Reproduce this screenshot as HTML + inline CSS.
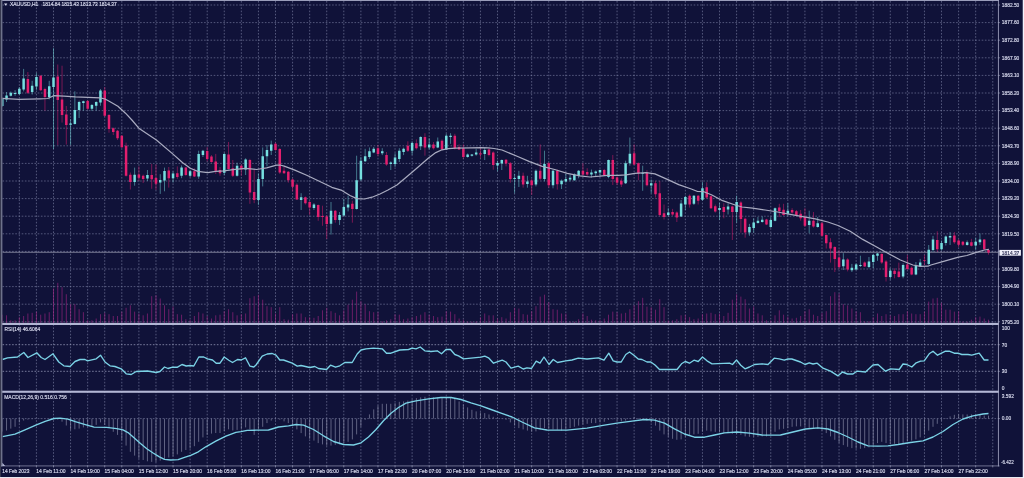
<!DOCTYPE html><html><head><meta charset="utf-8"><title>XAUUSD H1</title><style>html,body{margin:0;padding:0;background:#101239;overflow:hidden}</style></head><body><svg width="1024" height="478" viewBox="0 0 1024 478" style="display:block;font-family:'Liberation Sans',sans-serif">
<rect width="1024" height="478" fill="#101239"/>
<defs><filter id="bl" x="-5%" y="-50%" width="110%" height="200%"><feGaussianBlur stdDeviation="0.22"/></filter></defs>
<defs><clipPath id="cp"><rect x="2.4" y="0" width="995.9" height="466"/></clipPath></defs>
<path d="M19.34 1V466M36.42 1V466M53.50 1V466M70.57 1V466M87.65 1V466M104.73 1V466M121.81 1V466M138.88 1V466M155.96 1V466M173.04 1V466M190.12 1V466M207.19 1V466M224.27 1V466M241.35 1V466M258.43 1V466M275.50 1V466M292.58 1V466M309.66 1V466M326.73 1V466M343.81 1V466M360.89 1V466M377.97 1V466M395.05 1V466M412.12 1V466M429.20 1V466M446.28 1V466M463.35 1V466M480.43 1V466M497.51 1V466M514.59 1V466M531.67 1V466M548.74 1V466M565.82 1V466M582.90 1V466M599.98 1V466M617.05 1V466M634.13 1V466M651.21 1V466M668.29 1V466M685.36 1V466M702.44 1V466M719.52 1V466M736.60 1V466M753.67 1V466M770.75 1V466M787.83 1V466M804.91 1V466M821.98 1V466M839.06 1V466M856.14 1V466M873.22 1V466M890.29 1V466M907.37 1V466M924.45 1V466M941.53 1V466M958.60 1V466M975.68 1V466M992.76 1V466M2.5 5.00H998.3M2.5 22.60H998.3M2.5 40.20H998.3M2.5 57.80H998.3M2.5 75.40H998.3M2.5 93.00H998.3M2.5 110.60H998.3M2.5 128.20H998.3M2.5 145.80H998.3M2.5 163.40H998.3M2.5 181.00H998.3M2.5 198.60H998.3M2.5 216.20H998.3M2.5 233.80H998.3M2.5 251.40H998.3M2.5 269.00H998.3M2.5 286.60H998.3M2.5 304.20H998.3M2.5 321.80H998.3M2.5 418.6H998.3" stroke="#8b91b4" stroke-width="0.55" stroke-dasharray="1.6 1.6" fill="none"/>
<path d="M2.5 344.7H998.3M2.5 371.3H998.3" stroke="#a4a8c6" stroke-width="0.7" stroke-dasharray="1.6 1.6" fill="none"/>
<path d="M2.27 323.2v-8.5M6.54 323.2v-7.9M10.81 323.2v-2.9M15.08 323.2v-2.9M19.35 323.2v-6.0M23.62 323.2v-7.2M27.89 323.2v-9.7M32.16 323.2v-10.4M36.43 323.2v-11.6M40.69 323.2v-8.5M44.96 323.2v-9.7M49.23 323.2v-11.0M53.50 323.2v-34.7M57.77 323.2v-40.4M62.04 323.2v-36.0M66.31 323.2v-29.0M70.58 323.2v-19.0M74.85 323.2v-19.0M79.12 323.2v-14.0M83.39 323.2v-11.0M87.66 323.2v-3.0M91.93 323.2v-3.0M96.20 323.2v-4.7M100.47 323.2v-9.0M104.74 323.2v-10.4M109.00 323.2v-9.0M113.27 323.2v-7.2M117.54 323.2v-7.2M121.81 323.2v-11.6M126.08 323.2v-15.4M130.35 323.2v-17.9M134.62 323.2v-11.6M138.89 323.2v-9.7M143.16 323.2v-7.9M147.43 323.2v-9.7M151.70 323.2v-27.0M155.97 323.2v-27.9M160.24 323.2v-24.7M164.51 323.2v-17.9M168.78 323.2v-14.0M173.05 323.2v-16.6M177.32 323.2v-9.0M181.58 323.2v-8.5M185.85 323.2v-4.0M190.12 323.2v-3.5M194.39 323.2v-7.2M198.66 323.2v-11.0M202.93 323.2v-9.7M207.20 323.2v-7.2M211.47 323.2v-4.7M215.74 323.2v-7.9M220.01 323.2v-8.5M224.28 323.2v-12.0M228.55 323.2v-14.0M232.82 323.2v-11.0M237.09 323.2v-7.9M241.36 323.2v-9.0M245.63 323.2v-9.7M249.90 323.2v-25.0M254.16 323.2v-27.0M258.43 323.2v-28.5M262.70 323.2v-23.5M266.97 323.2v-17.0M271.24 323.2v-16.0M275.51 323.2v-9.7M279.78 323.2v-16.0M284.05 323.2v-4.0M288.32 323.2v-3.5M292.59 323.2v-9.0M296.86 323.2v-9.7M301.13 323.2v-9.7M305.40 323.2v-6.0M309.67 323.2v-6.0M313.94 323.2v-5.4M318.21 323.2v-7.2M322.47 323.2v-12.9M326.74 323.2v-15.4M331.01 323.2v-12.0M335.28 323.2v-10.4M339.55 323.2v-7.9M343.82 323.2v-12.9M348.09 323.2v-18.5M352.36 323.2v-23.5M356.63 323.2v-31.6M360.90 323.2v-22.0M365.17 323.2v-19.0M369.44 323.2v-12.0M373.71 323.2v-11.0M377.98 323.2v-11.0M382.25 323.2v-2.0M386.52 323.2v-2.9M390.79 323.2v-4.0M395.05 323.2v-9.0M399.32 323.2v-8.5M403.59 323.2v-4.0M407.86 323.2v-4.7M412.13 323.2v-6.0M416.40 323.2v-7.2M420.67 323.2v-8.5M424.94 323.2v-11.0M429.21 323.2v-8.5M433.48 323.2v-7.2M437.75 323.2v-6.0M442.02 323.2v-6.6M446.29 323.2v-12.0M450.56 323.2v-11.6M454.83 323.2v-9.0M459.10 323.2v-4.7M463.37 323.2v-3.5M467.63 323.2v-1.6M471.90 323.2v-1.6M476.17 323.2v-2.0M480.44 323.2v-6.0M484.71 323.2v-9.7M488.98 323.2v-7.9M493.25 323.2v-7.9M497.52 323.2v-4.7M501.79 323.2v-6.0M506.06 323.2v-4.7M510.33 323.2v-11.0M514.60 323.2v-15.4M518.87 323.2v-14.7M523.14 323.2v-9.0M527.41 323.2v-8.5M531.68 323.2v-12.0M535.94 323.2v-17.0M540.21 323.2v-26.6M544.48 323.2v-28.5M548.75 323.2v-21.0M553.02 323.2v-14.0M557.29 323.2v-13.5M561.56 323.2v-9.7M565.83 323.2v-9.7M570.10 323.2v-1.6M574.37 323.2v-1.6M578.64 323.2v-4.0M582.91 323.2v-9.7M587.18 323.2v-7.2M591.45 323.2v-3.5M595.72 323.2v-3.0M599.99 323.2v-3.0M604.26 323.2v-4.7M608.52 323.2v-8.5M612.79 323.2v-11.6M617.06 323.2v-11.0M621.33 323.2v-9.7M625.60 323.2v-10.4M629.87 323.2v-14.0M634.14 323.2v-17.9M638.41 323.2v-22.0M642.68 323.2v-25.4M646.95 323.2v-16.6M651.22 323.2v-16.0M655.49 323.2v-13.5M659.76 323.2v-24.0M664.03 323.2v-16.0M668.30 323.2v-2.9M672.57 323.2v-2.9M676.84 323.2v-4.0M681.10 323.2v-7.9M685.37 323.2v-8.5M689.64 323.2v-6.0M693.91 323.2v-4.0M698.18 323.2v-4.7M702.45 323.2v-9.0M706.72 323.2v-9.7M710.99 323.2v-10.4M715.26 323.2v-9.0M719.53 323.2v-9.7M723.80 323.2v-7.2M728.07 323.2v-10.4M732.34 323.2v-23.5M736.61 323.2v-29.0M740.88 323.2v-26.6M745.15 323.2v-24.0M749.41 323.2v-14.7M753.68 323.2v-16.6M757.95 323.2v-9.7M762.22 323.2v-7.9M766.49 323.2v-2.9M770.76 323.2v-2.9M775.03 323.2v-7.9M779.30 323.2v-12.9M783.57 323.2v-8.5M787.84 323.2v-6.6M792.11 323.2v-4.7M796.38 323.2v-5.4M800.65 323.2v-7.2M804.92 323.2v-12.0M809.19 323.2v-14.0M813.46 323.2v-8.5M817.73 323.2v-7.2M821.99 323.2v-10.4M826.26 323.2v-12.0M830.53 323.2v-27.0M834.80 323.2v-31.0M839.07 323.2v-29.7M843.34 323.2v-19.0M847.61 323.2v-17.9M851.88 323.2v-14.7M856.15 323.2v-12.0M860.42 323.2v-11.0M864.69 323.2v-2.0M868.96 323.2v-2.0M873.23 323.2v-6.0M877.50 323.2v-9.7M881.77 323.2v-7.2M886.04 323.2v-9.0M890.31 323.2v-7.9M894.57 323.2v-7.2M898.84 323.2v-9.0M903.11 323.2v-9.0M907.38 323.2v-12.0M911.65 323.2v-9.7M915.92 323.2v-9.0M920.19 323.2v-9.0M924.46 323.2v-11.6M928.73 323.2v-21.6M933.00 323.2v-24.7M937.27 323.2v-25.4M941.54 323.2v-20.4M945.81 323.2v-13.5M950.08 323.2v-13.5M954.35 323.2v-11.6M958.62 323.2v-12.0M962.88 323.2v-1.6M967.15 323.2v-1.6M971.42 323.2v-3.5M975.69 323.2v-6.0M979.96 323.2v-6.6M984.23 323.2v-4.7M988.50 323.2v-3.5" stroke="#a32684" stroke-width="0.62" fill="none" clip-path="url(#cp)"/>
<path d="M2.5 252.3H998.3" stroke="#b8bccb" stroke-width="0.6"/>
<g clip-path="url(#cp)">
<path d="M2.27 97.5V107.0M6.54 92.0V102.0M10.81 91.5V96.5M15.08 90.2V95.8M19.35 87.0V95.2M23.62 68.9V91.4M32.16 80.8V94.6M36.43 72.9V90.2M49.23 80.8V99.4M53.50 48.2V149.0M70.58 118.9V145.0M74.85 91.3V124.5M79.12 100.7V118.0M83.39 100.7V110.7M91.93 104.0V111.0M96.20 101.3V110.7M100.47 89.0V105.7M134.62 167.6V185.7M147.43 170.0V181.0M160.24 174.2V193.9M164.51 167.6V191.3M173.05 171.4V182.6M181.58 165.4V178.2M190.12 169.6V177.0M198.66 150.7V178.8M202.93 149.9V157.0M224.28 152.9V175.2M237.09 162.7V176.5M245.63 158.3V175.0M258.43 173.3V205.0M262.70 147.5V186.4M266.97 145.0V166.4M271.24 140.6V155.0M301.13 193.2V210.0M313.94 203.2V210.0M331.01 202.0V234.6M339.55 212.0V225.0M343.82 198.8V216.4M348.09 195.7V211.4M356.63 155.7V209.5M360.90 157.0V181.0M365.17 148.8V162.0M369.44 147.5V158.9M373.71 147.0V153.2M382.25 148.2V155.1M390.79 161.4V170.0M395.05 153.2V167.0M399.32 148.2V162.0M403.59 147.6V155.1M412.13 141.3V155.0M420.67 136.3V150.0M429.21 138.2V149.5M437.75 137.5V148.2M446.29 133.8V150.0M450.56 133.2V143.8M467.63 153.5V157.6M471.90 154.0V156.5M476.17 148.8V155.7M484.71 147.6V160.0M497.52 160.7V171.4M501.79 159.5V170.0M514.60 173.9V193.3M518.87 170.8V187.0M527.41 175.8V187.7M535.94 169.5V186.4M544.48 150.7V181.4M553.02 169.5V188.3M561.56 179.5V189.0M565.83 173.9V182.7M570.10 174.5V181.4M574.37 173.3V180.8M578.64 170.1V178.3M591.45 169.5V177.7M595.72 170.5V176.4M599.99 169.5V176.4M608.52 159.5V178.3M625.60 160.7V184.0M629.87 137.5V165.7M642.68 165.7V190.8M651.22 179.5V193.2M668.30 208.0V216.4M681.10 200.0V217.0M685.37 195.7V210.0M693.91 195.0V205.0M702.45 182.0V200.7M719.53 202.6V220.0M728.07 203.2V214.5M736.61 195.7V222.7M749.41 223.9V235.8M753.68 218.2V232.6M757.95 217.0V223.6M762.22 216.3V222.6M770.76 217.0V227.9M775.03 207.5V221.3M787.84 203.2V215.7M809.19 210.7V233.3M817.73 217.0V227.6M843.34 253.2V270.0M851.88 263.9V272.0M856.15 263.3V270.2M860.42 255.7V267.0M868.96 257.0V268.3M873.23 253.9V268.3M877.50 253.0V260.8M890.31 268.3V279.6M903.11 263.3V278.3M915.92 262.0V275.2M920.19 258.9V267.0M928.73 245.0V265.5M933.00 235.9V251.8M941.54 240.5V250.5M945.81 235.5V245.5M950.08 232.0V245.0M967.15 240.5V245.6M975.69 237.6V250.0M979.96 233.4V245.0" stroke="#76dfe0" stroke-width="0.5" fill="none"/>
<path d="M27.89 72.0V94.0M40.69 75.1V90.8M44.96 87.7V110.7M57.77 64.5V145.0M62.04 65.7V122.6M66.31 106.0V144.6M87.66 100.0V110.0M104.74 87.0V117.0M109.00 114.0V132.7M113.27 127.5V135.0M117.54 130.0V140.0M121.81 135.0V148.0M126.08 142.6V176.5M130.35 172.5V189.5M138.89 166.4V181.0M143.16 174.6V183.0M151.70 163.9V188.8M155.97 164.5V190.0M168.78 167.0V187.6M177.32 166.4V178.8M185.85 167.0V175.8M194.39 168.3V177.0M207.20 147.0V161.4M211.47 155.1V162.7M215.74 153.9V174.0M220.01 167.0V175.8M228.55 142.0V169.6M232.82 160.0V177.0M241.36 164.5V175.8M249.90 158.8V203.8M254.16 169.5V203.2M275.51 142.5V150.7M279.78 148.2V173.9M284.05 166.4V173.9M288.32 171.0V182.7M292.59 178.5V191.6M296.86 183.3V200.0M305.40 196.5V204.5M309.67 201.0V215.0M318.21 204.5V220.8M322.47 205.7V225.8M326.74 215.0V239.0M335.28 210.0V222.7M352.36 200.7V222.7M377.98 145.0V156.4M386.52 152.0V165.8M407.86 141.3V152.0M416.40 139.4V149.5M424.94 133.2V155.7M433.48 142.0V149.5M442.02 139.4V150.0M454.83 133.8V149.5M459.10 144.4V150.0M463.37 144.4V158.9M480.44 147.0V158.2M488.98 148.2V156.4M493.25 151.3V169.7M506.06 159.0V166.4M510.33 162.0V182.7M523.14 172.6V187.7M531.68 178.9V195.0M540.21 144.4V180.2M548.75 162.0V187.7M557.29 169.5V189.6M582.91 163.2V175.8M587.18 168.2V175.8M604.26 168.9V175.8M612.79 155.0V185.0M617.06 176.4V185.2M621.33 178.3V187.0M634.14 144.4V165.1M638.41 162.5V180.2M646.95 170.1V186.4M655.49 180.8V197.6M659.76 181.0V216.4M664.03 204.5V219.5M672.57 208.9V215.8M676.84 211.4V222.0M689.64 194.4V207.6M698.18 195.0V204.5M706.72 182.3V198.8M710.99 195.5V208.9M715.26 204.5V212.6M723.80 203.2V218.3M732.34 205.7V240.0M740.88 201.3V232.7M745.15 217.6V237.7M766.49 218.8V225.1M779.30 203.8V217.0M783.57 203.8V215.7M792.11 208.2V213.8M796.38 210.0V216.3M800.65 210.0V220.7M804.92 208.2V227.0M813.46 212.0V227.6M821.99 222.0V237.0M826.26 234.5V248.6M830.53 238.2V262.6M834.80 246.3V272.0M839.07 249.5V268.9M847.61 258.3V271.4M864.69 261.4V267.0M881.77 253.2V263.9M886.04 260.1V281.5M894.57 268.3V278.3M898.84 262.6V277.7M907.38 255.0V270.2M911.65 266.4V275.2M924.46 255.0V265.0M937.27 231.3V251.8M954.35 232.0V243.8M958.62 239.2V247.2M962.88 241.0V246.0M971.42 238.8V246.4M984.23 239.0V250.1M988.50 248.8V254.7" stroke="#e21f6e" stroke-width="0.5" fill="none"/>
<path d="M1.02 98.8h2.5V106.0h-2.5zM5.29 95.4h2.5V99.4h-2.5zM9.56 92.7h2.5V95.7h-2.5zM13.83 93.0h2.5V94.0h-2.5zM18.10 88.7h2.5V94.0h-2.5zM22.37 78.6h2.5V89.6h-2.5zM30.91 85.8h2.5V92.0h-2.5zM35.18 77.0h2.5V86.4h-2.5zM47.98 86.2h2.5V97.0h-2.5zM52.25 77.6h2.5V87.0h-2.5zM69.33 123.6h2.5V124.8h-2.5zM73.60 110.0h2.5V123.9h-2.5zM77.87 101.9h2.5V110.0h-2.5zM82.14 101.3h2.5V103.0h-2.5zM90.68 105.0h2.5V108.8h-2.5zM94.95 101.9h2.5V105.7h-2.5zM99.22 90.5h2.5V102.5h-2.5zM133.37 174.8h2.5V182.0h-2.5zM146.18 175.1h2.5V178.4h-2.5zM158.99 180.0h2.5V182.6h-2.5zM163.26 170.9h2.5V180.4h-2.5zM171.80 173.6h2.5V178.3h-2.5zM180.33 167.4h2.5V175.7h-2.5zM188.87 171.3h2.5V175.7h-2.5zM197.41 153.9h2.5V176.4h-2.5zM201.68 150.7h2.5V155.0h-2.5zM223.03 154.0h2.5V172.7h-2.5zM235.84 165.8h2.5V175.8h-2.5zM244.38 159.5h2.5V169.6h-2.5zM257.18 178.9h2.5V200.0h-2.5zM261.45 156.3h2.5V178.9h-2.5zM265.72 150.0h2.5V156.3h-2.5zM269.99 144.4h2.5V150.7h-2.5zM299.88 197.3h2.5V200.0h-2.5zM312.69 204.5h2.5V207.9h-2.5zM329.76 210.7h2.5V223.7h-2.5zM338.30 215.0h2.5V220.0h-2.5zM342.57 207.0h2.5V215.4h-2.5zM346.84 204.5h2.5V207.6h-2.5zM355.38 180.2h2.5V208.9h-2.5zM359.65 160.7h2.5V179.5h-2.5zM363.92 156.3h2.5V161.3h-2.5zM368.19 151.3h2.5V157.0h-2.5zM372.46 148.8h2.5V152.6h-2.5zM381.00 151.3h2.5V153.2h-2.5zM389.54 162.6h2.5V164.0h-2.5zM393.80 157.6h2.5V163.9h-2.5zM398.07 150.7h2.5V158.9h-2.5zM402.34 148.8h2.5V152.0h-2.5zM410.88 143.0h2.5V150.7h-2.5zM419.42 137.0h2.5V146.3h-2.5zM427.96 144.4h2.5V147.6h-2.5zM436.50 141.6h2.5V147.6h-2.5zM445.04 135.7h2.5V149.5h-2.5zM449.31 135.7h2.5V137.0h-2.5zM466.38 154.5h2.5V157.0h-2.5zM470.65 154.5h2.5V155.7h-2.5zM474.92 152.6h2.5V154.5h-2.5zM483.46 150.0h2.5V153.9h-2.5zM496.27 162.9h2.5V165.4h-2.5zM500.54 160.0h2.5V163.6h-2.5zM513.35 178.0h2.5V179.0h-2.5zM517.62 175.8h2.5V178.9h-2.5zM526.16 181.4h2.5V183.9h-2.5zM534.69 170.8h2.5V184.6h-2.5zM543.23 163.9h2.5V178.9h-2.5zM551.77 170.8h2.5V185.2h-2.5zM560.31 180.8h2.5V184.2h-2.5zM564.58 178.9h2.5V181.4h-2.5zM568.85 177.7h2.5V179.5h-2.5zM573.12 174.5h2.5V180.2h-2.5zM577.39 170.8h2.5V175.8h-2.5zM590.20 172.6h2.5V174.5h-2.5zM594.47 171.4h2.5V173.3h-2.5zM598.74 170.0h2.5V172.6h-2.5zM607.27 160.0h2.5V177.0h-2.5zM624.35 163.2h2.5V183.3h-2.5zM628.62 153.8h2.5V163.2h-2.5zM641.43 173.2h2.5V174.1h-2.5zM649.97 183.2h2.5V185.4h-2.5zM667.05 212.4h2.5V215.0h-2.5zM679.85 203.6h2.5V216.4h-2.5zM684.12 197.0h2.5V204.5h-2.5zM692.66 195.7h2.5V203.8h-2.5zM701.20 188.2h2.5V199.8h-2.5zM718.28 207.9h2.5V210.0h-2.5zM726.82 206.6h2.5V209.5h-2.5zM735.36 202.0h2.5V212.0h-2.5zM748.16 227.0h2.5V232.4h-2.5zM752.43 222.6h2.5V227.9h-2.5zM756.70 220.7h2.5V222.9h-2.5zM760.97 219.7h2.5V222.0h-2.5zM769.51 220.0h2.5V227.0h-2.5zM773.78 208.2h2.5V220.7h-2.5zM786.59 210.7h2.5V213.8h-2.5zM807.94 220.7h2.5V225.0h-2.5zM816.48 223.2h2.5V227.0h-2.5zM842.09 259.5h2.5V266.2h-2.5zM850.63 267.7h2.5V270.2h-2.5zM854.90 264.5h2.5V269.5h-2.5zM859.17 265.0h2.5V266.0h-2.5zM867.71 261.4h2.5V267.0h-2.5zM871.98 255.0h2.5V262.0h-2.5zM876.25 253.6h2.5V255.7h-2.5zM889.06 270.8h2.5V277.0h-2.5zM901.86 265.0h2.5V276.4h-2.5zM914.67 265.8h2.5V274.6h-2.5zM918.94 262.6h2.5V266.4h-2.5zM927.48 249.7h2.5V263.9h-2.5zM931.75 239.6h2.5V250.0h-2.5zM940.29 243.0h2.5V249.3h-2.5zM944.56 236.5h2.5V243.0h-2.5zM948.83 235.9h2.5V237.6h-2.5zM965.90 242.2h2.5V245.0h-2.5zM974.44 241.7h2.5V245.5h-2.5zM978.71 239.6h2.5V242.2h-2.5z" fill="#76dfe0"/>
<path d="M26.64 78.9h2.5V92.7h-2.5zM39.44 75.8h2.5V90.2h-2.5zM43.71 89.0h2.5V97.0h-2.5zM56.52 76.4h2.5V100.0h-2.5zM60.79 99.4h2.5V115.0h-2.5zM65.06 114.5h2.5V125.0h-2.5zM86.41 101.0h2.5V108.8h-2.5zM103.49 90.4h2.5V115.7h-2.5zM107.75 115.0h2.5V128.9h-2.5zM112.02 128.3h2.5V132.0h-2.5zM116.29 130.8h2.5V138.3h-2.5zM120.56 135.8h2.5V147.3h-2.5zM124.83 145.7h2.5V175.8h-2.5zM129.10 174.7h2.5V182.0h-2.5zM137.64 174.6h2.5V177.7h-2.5zM141.91 175.8h2.5V178.9h-2.5zM150.45 175.0h2.5V179.2h-2.5zM154.72 178.0h2.5V183.8h-2.5zM167.53 170.4h2.5V178.2h-2.5zM176.07 173.2h2.5V177.0h-2.5zM184.60 167.6h2.5V175.1h-2.5zM193.14 171.3h2.5V176.4h-2.5zM205.95 151.0h2.5V158.9h-2.5zM210.22 156.4h2.5V162.0h-2.5zM214.49 161.4h2.5V170.8h-2.5zM218.76 170.0h2.5V173.3h-2.5zM227.30 154.5h2.5V169.0h-2.5zM231.57 168.3h2.5V175.8h-2.5zM240.11 165.8h2.5V169.6h-2.5zM248.65 160.0h2.5V192.6h-2.5zM252.91 191.9h2.5V200.0h-2.5zM274.26 143.8h2.5V150.0h-2.5zM278.53 149.0h2.5V172.6h-2.5zM282.80 170.8h2.5V173.3h-2.5zM287.07 171.8h2.5V180.2h-2.5zM291.34 179.5h2.5V186.7h-2.5zM295.61 184.8h2.5V199.4h-2.5zM304.15 197.3h2.5V203.2h-2.5zM308.42 202.0h2.5V207.6h-2.5zM316.96 205.0h2.5V217.0h-2.5zM321.22 216.0h2.5V216.9h-2.5zM325.49 216.4h2.5V224.0h-2.5zM334.03 210.7h2.5V220.0h-2.5zM351.11 203.8h2.5V208.9h-2.5zM376.73 148.2h2.5V153.9h-2.5zM385.27 155.0h2.5V164.5h-2.5zM406.61 145.7h2.5V150.7h-2.5zM415.15 143.2h2.5V148.2h-2.5zM423.69 137.0h2.5V147.6h-2.5zM432.23 144.4h2.5V148.2h-2.5zM440.77 140.7h2.5V149.5h-2.5zM453.58 135.7h2.5V148.2h-2.5zM457.85 147.0h2.5V149.5h-2.5zM462.12 148.2h2.5V157.0h-2.5zM479.19 153.2h2.5V154.5h-2.5zM487.73 149.5h2.5V155.0h-2.5zM492.00 152.6h2.5V165.0h-2.5zM504.81 159.8h2.5V163.6h-2.5zM509.08 163.2h2.5V178.9h-2.5zM521.89 175.8h2.5V184.6h-2.5zM530.43 180.4h2.5V185.2h-2.5zM538.96 170.8h2.5V178.7h-2.5zM547.50 163.2h2.5V185.2h-2.5zM556.04 170.8h2.5V184.2h-2.5zM581.66 170.8h2.5V174.5h-2.5zM585.93 172.0h2.5V174.5h-2.5zM603.01 170.0h2.5V175.2h-2.5zM611.54 160.0h2.5V178.9h-2.5zM615.81 177.4h2.5V182.7h-2.5zM620.08 180.8h2.5V184.6h-2.5zM632.89 153.2h2.5V164.5h-2.5zM637.16 163.2h2.5V173.3h-2.5zM645.70 172.6h2.5V185.2h-2.5zM654.24 183.2h2.5V194.2h-2.5zM658.51 193.3h2.5V215.0h-2.5zM662.78 213.2h2.5V217.0h-2.5zM671.32 212.0h2.5V214.5h-2.5zM675.59 212.6h2.5V217.6h-2.5zM688.39 195.7h2.5V204.5h-2.5zM696.93 195.7h2.5V200.7h-2.5zM705.47 187.3h2.5V197.6h-2.5zM709.74 196.3h2.5V208.2h-2.5zM714.01 206.3h2.5V211.4h-2.5zM722.55 207.0h2.5V212.0h-2.5zM731.09 206.6h2.5V212.0h-2.5zM739.63 202.6h2.5V218.9h-2.5zM743.90 218.8h2.5V232.6h-2.5zM765.24 219.5h2.5V224.5h-2.5zM778.05 207.5h2.5V211.3h-2.5zM782.32 209.8h2.5V215.0h-2.5zM790.86 210.0h2.5V212.6h-2.5zM795.13 211.3h2.5V215.0h-2.5zM799.40 213.8h2.5V218.2h-2.5zM803.67 217.0h2.5V225.7h-2.5zM812.21 220.7h2.5V226.4h-2.5zM820.74 223.2h2.5V235.8h-2.5zM825.01 235.1h2.5V243.2h-2.5zM829.28 242.3h2.5V248.5h-2.5zM833.55 247.0h2.5V258.9h-2.5zM837.82 257.6h2.5V267.0h-2.5zM846.36 259.5h2.5V269.5h-2.5zM863.44 262.6h2.5V266.4h-2.5zM880.52 253.9h2.5V262.6h-2.5zM884.79 261.4h2.5V277.0h-2.5zM893.32 270.8h2.5V274.0h-2.5zM897.59 271.4h2.5V277.0h-2.5zM906.13 264.5h2.5V269.0h-2.5zM910.40 267.7h2.5V274.6h-2.5zM923.21 259.9h2.5V260.8h-2.5zM936.02 240.0h2.5V249.3h-2.5zM953.10 235.5h2.5V242.2h-2.5zM957.37 240.5h2.5V244.7h-2.5zM961.63 241.7h2.5V244.7h-2.5zM970.17 242.2h2.5V245.8h-2.5zM982.98 239.6h2.5V249.3h-2.5zM987.25 250.0h2.5V252.6h-2.5z" fill="#e21f6e"/>
<path d="M0.0 98.2L18.8 99.4L40.0 98.8L47.7 98.5L51.0 97.0L54.0 95.6L64.0 96.2L75.3 96.9L100.4 97.8L105.0 99.0L109.2 101.3L117.9 106.3L125.5 113.2L131.9 120.0L138.8 128.2L156.4 140.0L172.7 153.9L182.7 162.7L190.3 168.3L197.8 171.4L207.8 172.7L215.4 171.4L224.1 170.8L232.9 169.6L245.5 168.3L256.5 169.5L266.6 167.9L276.6 165.1L280.0 165.0L284.2 166.1L294.2 169.9L306.7 175.2L319.3 181.2L331.8 187.3L341.9 190.4L350.0 195.5L356.9 198.6L364.5 199.0L372.0 197.2L380.0 194.0L388.0 190.0L396.9 185.0L405.6 177.7L418.2 167.0L428.2 158.2L435.8 152.6L442.0 149.8L448.3 148.6L455.8 148.2L470.9 147.8L480.9 147.6L488.5 147.8L494.0 148.5L502.0 150.0L517.1 156.3L529.6 161.6L542.2 166.4L554.7 169.5L567.3 173.3L579.8 175.8L589.9 177.0L599.9 176.2L607.4 175.4L618.0 175.3L626.0 174.9L634.8 173.3L646.1 172.6L654.9 173.9L666.2 178.9L678.7 184.6L691.3 189.0L697.6 191.5L703.8 191.7L711.4 194.8L722.6 200.7L735.2 205.0L742.0 207.0L752.5 208.2L765.1 210.0L777.6 212.0L790.2 214.4L802.7 216.6L815.3 218.8L827.8 222.0L838.0 225.5L850.2 231.3L862.7 239.4L875.3 246.3L887.8 253.2L900.4 260.0L912.9 265.0L920.5 266.4L928.0 266.2L930.9 265.0L941.8 261.8L958.5 257.2L966.9 255.5L975.6 252.6L984.4 250.0L988.8 249.3" stroke="#a9abc0" stroke-width="1.22" fill="none" stroke-linejoin="round"/>
<path d="M2.5 359.5L7.5 357.8L17.5 357.0L23.8 352.5L28.0 357.5L36.8 352.8L41.2 357.5L45.0 359.5L53.0 353.8L58.8 362.0L63.8 365.8L70.0 366.5L75.0 361.5L80.0 359.5L85.0 359.5L87.5 360.8L96.2 358.8L100.5 355.2L105.0 362.0L110.0 365.8L115.0 366.5L121.2 368.8L126.2 373.8L131.2 374.5L136.2 371.5L147.5 371.0L156.2 372.5L160.0 371.5L164.5 367.0L168.0 368.5L172.5 367.2L177.5 367.2L182.0 364.5L186.2 366.0L190.0 365.5L193.8 366.0L198.8 357.0L203.8 357.0L207.5 358.8L212.5 360.0L216.2 363.2L220.0 363.2L224.2 357.0L228.8 360.2L232.5 362.5L237.5 359.5L241.2 360.0L245.5 357.8L250.0 366.2L253.8 367.0L256.0 365.0L262.2 356.2L267.2 354.0L272.2 353.5L276.0 355.2L279.8 360.0L283.5 360.0L292.2 363.2L297.2 366.2L301.0 365.5L309.8 367.5L314.8 366.5L318.5 368.5L326.5 369.5L330.5 365.2L335.5 367.2L339.8 365.8L344.8 362.5L352.2 362.5L357.2 354.0L361.0 350.0L366.0 348.8L373.5 348.2L382.2 348.8L386.5 353.2L391.0 353.2L399.8 350.0L408.5 349.5L412.2 348.2L416.0 348.8L420.2 347.0L424.8 350.8L431.0 351.5L437.2 350.8L441.5 353.8L446.0 349.5L450.5 349.5L454.8 354.5L458.5 355.8L463.5 358.8L473.5 357.8L481.0 357.2L484.8 356.2L488.5 357.8L493.5 363.2L502.2 360.2L506.0 362.0L511.0 368.2L518.2 366.2L523.2 369.0L527.0 367.8L531.5 368.5L536.2 361.2L540.0 363.2L544.0 357.0L549.0 364.5L553.2 359.5L557.5 362.5L565.8 360.8L572.0 360.0L578.2 358.2L587.0 359.0L598.2 357.8L604.0 360.2L608.8 353.2L613.2 360.8L617.0 362.0L621.2 362.0L625.8 354.5L629.5 352.0L634.5 355.8L638.2 359.0L642.0 359.5L647.0 362.0L650.8 362.0L655.0 365.0L659.5 369.5L677.0 369.5L681.5 363.8L685.2 361.5L689.5 363.2L694.0 360.2L698.2 361.5L702.5 357.0L707.0 360.8L712.0 363.8L729.5 363.2L732.5 364.5L736.5 360.0L740.8 365.2L745.0 368.8L749.5 367.0L754.5 364.5L762.0 363.8L768.0 364.5L774.2 358.2L779.2 358.8L784.2 360.2L788.0 359.0L791.8 359.0L800.5 362.0L805.0 364.5L809.2 362.8L813.0 364.0L817.2 363.2L823.0 368.2L830.5 371.2L838.0 375.8L842.5 372.0L847.5 374.0L853.0 374.0L856.8 371.2L865.5 372.0L873.0 365.0L878.0 364.5L885.5 371.2L890.5 368.8L899.2 369.5L903.0 364.0L906.8 364.5L911.8 367.0L916.2 362.8L920.5 361.2L924.2 360.8L929.2 353.8L933.0 351.2L937.5 355.2L945.5 351.2L949.2 351.2L954.2 353.2L958.0 353.2L961.8 354.5L968.0 354.5L971.8 355.2L979.2 353.2L984.2 360.0L988.5 360.0" stroke="#7bd2e6" stroke-width="1.35" fill="none" stroke-linejoin="round"/>
<path d="M2.27 418.6v13.0M6.54 418.6v11.9M10.81 418.6v10.0M15.08 418.6v8.2M19.35 418.6v3.8M23.62 418.6v1.9M27.89 418.6v1.0M32.16 418.6v0.6M36.43 418.6v0.3M40.69 418.6v-0.3M44.96 418.6v0.3M49.23 418.6v0.3M53.50 418.6v0.3M57.77 418.6v1.0M62.04 418.6v3.1M66.31 418.6v6.9M70.58 418.6v11.3M74.85 418.6v10.7M79.12 418.6v10.0M83.39 418.6v8.8M87.66 418.6v8.2M91.93 418.6v7.5M96.20 418.6v6.3M100.47 418.6v3.8M104.74 418.6v6.3M109.00 418.6v9.4M113.27 418.6v13.2M117.54 418.6v16.3M121.81 418.6v21.3M126.08 418.6v27.0M130.35 418.6v33.2M134.62 418.6v37.0M138.89 418.6v40.0M143.16 418.6v41.4M147.43 418.6v42.7M151.70 418.6v43.3M155.97 418.6v43.3M160.24 418.6v42.0M164.51 418.6v40.8M168.78 418.6v38.9M173.05 418.6v37.6M177.32 418.6v35.8M181.58 418.6v33.2M185.85 418.6v31.4M190.12 418.6v30.0M194.39 418.6v27.6M198.66 418.6v23.2M202.93 418.6v18.8M207.20 418.6v16.3M211.47 418.6v15.0M215.74 418.6v14.4M220.01 418.6v14.4M224.28 418.6v12.5M228.55 418.6v10.7M232.82 418.6v11.9M237.09 418.6v11.3M241.36 418.6v10.7M245.63 418.6v8.8M249.90 418.6v10.7M254.16 418.6v16.3M258.43 418.6v10.8M262.70 418.6v8.2M266.97 418.6v4.5M271.24 418.6v2.0M275.51 418.6v0.8M279.78 418.6v1.2M284.05 418.6v2.8M288.32 418.6v4.5M292.59 418.6v7.0M296.86 418.6v10.8M301.13 418.6v14.5M305.40 418.6v17.8M309.67 418.6v20.2M313.94 418.6v22.0M318.21 418.6v24.5M322.47 418.6v25.8M326.74 418.6v27.0M331.01 418.6v27.0M335.28 418.6v26.2M339.55 418.6v25.8M343.82 418.6v24.5M348.09 418.6v23.2M352.36 418.6v20.8M356.63 418.6v15.8M360.90 418.6v8.2M365.17 418.6v1.2M369.44 418.6v-4.2M373.71 418.6v-9.2M377.98 418.6v-13.0M382.25 418.6v-14.8M386.52 418.6v-14.8M390.79 418.6v-14.8M395.05 418.6v-15.5M399.32 418.6v-16.8M403.59 418.6v-17.2M407.86 418.6v-18.0M412.13 418.6v-19.2M416.40 418.6v-20.5M420.67 418.6v-21.2M424.94 418.6v-21.8M429.21 418.6v-21.2M433.48 418.6v-21.2M437.75 418.6v-21.2M442.02 418.6v-21.2M446.29 418.6v-21.8M450.56 418.6v-21.2M454.83 418.6v-19.8M459.10 418.6v-17.2M463.37 418.6v-14.2M467.63 418.6v-11.2M471.90 418.6v-8.8M476.17 418.6v-7.2M480.44 418.6v-6.2M484.71 418.6v-5.5M488.98 418.6v-4.2M493.25 418.6v-1.8M497.52 418.6v-0.5M501.79 418.6v0.3M506.06 418.6v1.2M510.33 418.6v3.8M514.60 418.6v7.0M518.87 418.6v9.5M523.14 418.6v10.8M527.41 418.6v12.0M531.68 418.6v13.2M535.94 418.6v12.8M540.21 418.6v10.8M544.48 418.6v9.5M548.75 418.6v10.2M553.02 418.6v10.8M557.29 418.6v11.2M561.56 418.6v12.0M565.83 418.6v10.8M570.10 418.6v9.5M574.37 418.6v8.2M578.64 418.6v7.0M582.91 418.6v5.8M587.18 418.6v5.2M591.45 418.6v4.5M595.72 418.6v4.5M599.99 418.6v3.8M604.26 418.6v3.2M608.52 418.6v1.2M612.79 418.6v0.8M617.06 418.6v2.0M621.33 418.6v2.8M625.60 418.6v2.0M629.87 418.6v-0.5M634.14 418.6v-1.8M638.41 418.6v-0.5M642.68 418.6v0.3M646.95 418.6v2.0M651.22 418.6v3.8M655.49 418.6v7.0M659.76 418.6v12.0M664.03 418.6v15.8M668.30 418.6v18.2M672.57 418.6v20.2M676.84 418.6v21.2M681.10 418.6v20.8M685.37 418.6v18.2M689.64 418.6v17.0M693.91 418.6v15.8M698.18 418.6v15.2M702.45 418.6v13.2M706.72 418.6v12.0M710.99 418.6v12.8M715.26 418.6v13.2M719.53 418.6v13.8M723.80 418.6v14.5M728.07 418.6v14.5M732.34 418.6v15.2M736.61 418.6v15.2M740.88 418.6v16.2M745.15 418.6v17.8M749.41 418.6v18.2M753.68 418.6v18.2M757.95 418.6v18.2M762.22 418.6v17.8M766.49 418.6v17.8M770.76 418.6v15.8M775.03 418.6v13.2M779.30 418.6v10.8M783.57 418.6v10.2M787.84 418.6v9.5M792.11 418.6v8.2M796.38 418.6v7.8M800.65 418.6v7.8M804.92 418.6v8.2M809.19 418.6v9.5M813.46 418.6v9.5M817.73 418.6v10.2M821.99 418.6v12.0M826.26 418.6v14.5M830.53 418.6v17.8M834.80 418.6v21.2M839.07 418.6v24.5M843.34 418.6v26.5M847.61 418.6v28.2M851.88 418.6v29.5M856.15 418.6v30.2M860.42 418.6v30.2M864.69 418.6v29.5M868.96 418.6v28.8M873.23 418.6v27.0M877.50 418.6v24.5M881.77 418.6v23.2M886.04 418.6v24.5M890.31 418.6v25.2M894.57 418.6v25.2M898.84 418.6v25.2M903.11 418.6v24.5M907.38 418.6v22.8M911.65 418.6v22.0M915.92 418.6v20.8M920.19 418.6v18.8M924.46 418.6v15.8M928.73 418.6v12.0M933.00 418.6v8.2M937.27 418.6v5.2M941.54 418.6v2.0M945.81 418.6v-0.5M950.08 418.6v-2.2M954.35 418.6v-3.8M958.62 418.6v-4.2M962.88 418.6v-4.2M967.15 418.6v-4.2M971.42 418.6v-4.2M975.69 418.6v-3.8M979.96 418.6v-3.8M984.23 418.6v-3.0M988.50 418.6v-3.0" stroke="#9698b4" stroke-width="0.6" fill="none"/>
<path d="M2.5 436.7L15.0 434.2L25.0 429.8L36.4 424.8L45.2 421.3L54.0 418.5L60.2 418.2L67.8 419.2L75.3 421.7L85.3 424.6L94.1 427.1L106.6 427.3L116.7 428.6L123.0 429.8L128.0 432.6L134.3 438.0L140.5 443.6L146.8 448.7L153.1 453.0L159.4 456.8L164.4 459.3L170.7 460.0L178.2 459.7L184.5 457.4L190.7 455.3L198.3 451.8L205.8 446.8L215.8 441.1L225.9 436.1L235.9 432.3L240.9 431.7L247.2 430.3L256.0 430.2L268.5 430.0L278.5 427.0L288.5 425.8L296.0 424.5L303.5 425.2L313.5 429.5L323.5 435.8L333.5 441.5L343.5 444.5L353.5 445.0L361.0 442.8L368.5 437.0L376.0 429.5L383.5 420.8L391.0 413.2L398.5 407.5L406.0 403.2L416.0 400.8L428.5 398.8L441.0 397.5L451.0 397.5L461.0 399.5L471.0 402.8L481.0 405.8L491.0 409.5L501.0 413.2L512.0 417.0L522.0 422.0L534.5 427.8L547.0 430.0L567.0 430.2L587.0 428.2L604.5 425.2L617.0 423.2L632.0 421.2L644.5 419.5L654.5 420.2L664.5 423.2L674.5 428.8L684.5 434.0L694.5 437.2L704.5 437.2L714.5 435.0L724.5 432.8L737.0 432.0L749.5 433.2L762.0 435.0L768.0 435.2L780.5 435.0L793.0 432.0L805.5 429.0L818.0 427.8L828.0 429.0L838.0 432.5L848.0 437.0L858.0 442.0L868.0 445.8L878.0 446.2L888.0 445.8L898.0 444.5L910.5 442.5L923.0 440.8L933.0 437.0L943.0 431.5L953.0 424.5L963.0 419.0L973.0 415.8L983.0 414.0L988.5 413.5" stroke="#7bd2e6" stroke-width="1.35" fill="none" stroke-linejoin="round"/>
</g>
<rect x="1" y="322.9" width="997.8" height="2.1" fill="#b2b6d4"/>
<rect x="1" y="390.7" width="997.8" height="2.1" fill="#b2b6d4"/>
<rect x="1" y="0" width="997.8" height="1" fill="#9a9dba"/>
<rect x="0.9" y="0" width="1.5" height="466.4" fill="#6e728b"/>
<rect x="0" y="0" width="0.9" height="478" fill="#3a3d52"/>
<rect x="997.9499999999999" y="0" width="0.8" height="466.4" fill="#a9acc8"/>
<rect x="1" y="465.65" width="998.5999999999999" height="0.6" fill="#a9acc8"/>
<path d="M19.34 466v1.4M36.42 466v1.4M53.50 466v1.4M70.57 466v1.4M87.65 466v1.4M104.73 466v1.4M121.81 466v1.4M138.88 466v1.4M155.96 466v1.4M173.04 466v1.4M190.12 466v1.4M207.19 466v1.4M224.27 466v1.4M241.35 466v1.4M258.43 466v1.4M275.50 466v1.4M292.58 466v1.4M309.66 466v1.4M326.73 466v1.4M343.81 466v1.4M360.89 466v1.4M377.97 466v1.4M395.05 466v1.4M412.12 466v1.4M429.20 466v1.4M446.28 466v1.4M463.35 466v1.4M480.43 466v1.4M497.51 466v1.4M514.59 466v1.4M531.67 466v1.4M548.74 466v1.4M565.82 466v1.4M582.90 466v1.4M599.98 466v1.4M617.05 466v1.4M634.13 466v1.4M651.21 466v1.4M668.29 466v1.4M685.36 466v1.4M702.44 466v1.4M719.52 466v1.4M736.60 466v1.4M753.67 466v1.4M770.75 466v1.4M787.83 466v1.4M804.91 466v1.4M821.98 466v1.4M839.06 466v1.4M856.14 466v1.4M873.22 466v1.4M890.29 466v1.4M907.37 466v1.4M924.45 466v1.4M941.53 466v1.4M958.60 466v1.4M975.68 466v1.4M992.76 466v1.4" stroke="#a9acc8" stroke-width="0.6"/>
<path d="M998.3 5.00h1.6M998.3 22.60h1.6M998.3 40.20h1.6M998.3 57.80h1.6M998.3 75.40h1.6M998.3 93.00h1.6M998.3 110.60h1.6M998.3 128.20h1.6M998.3 145.80h1.6M998.3 163.40h1.6M998.3 181.00h1.6M998.3 198.60h1.6M998.3 216.20h1.6M998.3 233.80h1.6M998.3 251.40h1.6M998.3 269.00h1.6M998.3 286.60h1.6M998.3 304.20h1.6M998.3 321.80h1.6M998.3 344.70h1.6M998.3 371.30h1.6M998.3 418.60h1.6" stroke="#a9acc8" stroke-width="0.6"/>
<path d="M2.3 462.8L5.2 465.9H2.3z" fill="#b3b7d6"/>
<rect x="0" y="477" width="1024" height="1" fill="#e8e8f0"/>
<rect x="1022.75" y="0" width="1.25" height="478" fill="#f2f2fd"/>
<g fill="#d6d8ec" font-size="4.85" stroke="#d6d8ec" stroke-width="0.16" filter="url(#bl)">
<text x="1001.8" y="6.8">1882.50</text>
<text x="1001.8" y="24.4">1877.60</text>
<text x="1001.8" y="42.0">1872.80</text>
<text x="1001.8" y="59.6">1867.90</text>
<text x="1001.8" y="77.2">1863.10</text>
<text x="1001.8" y="94.8">1858.20</text>
<text x="1001.8" y="112.4">1853.40</text>
<text x="1001.8" y="130.0">1848.60</text>
<text x="1001.8" y="147.6">1843.70</text>
<text x="1001.8" y="165.2">1838.90</text>
<text x="1001.8" y="182.8">1834.00</text>
<text x="1001.8" y="200.4">1829.20</text>
<text x="1001.8" y="218.0">1824.30</text>
<text x="1001.8" y="235.6">1819.50</text>
<text x="1001.8" y="270.8">1809.80</text>
<text x="1001.8" y="288.4">1804.90</text>
<text x="1001.8" y="306.0">1800.10</text>
<text x="1001.8" y="323.6">1795.20</text>
<text x="1001.8" y="330.1">100</text>
<text x="1001.8" y="346.7">70</text>
<text x="1001.8" y="373.2">30</text>
<text x="1001.8" y="389.6">0</text>
<text x="1001.8" y="398.1">3.592</text>
<text x="1001.8" y="420.4">0.00</text>
<text x="1000.9" y="464.1" textLength="12.9" lengthAdjust="spacingAndGlyphs">-6.422</text>
<text x="2.2" y="472.8">14 Feb 2023</text>
<text x="36.3" y="472.8" textLength="29.2" lengthAdjust="spacingAndGlyphs">14 Feb 11:00</text>
<text x="70.5" y="472.8" textLength="29.2" lengthAdjust="spacingAndGlyphs">14 Feb 19:00</text>
<text x="104.6" y="472.8" textLength="29.2" lengthAdjust="spacingAndGlyphs">15 Feb 04:00</text>
<text x="138.8" y="472.8" textLength="29.2" lengthAdjust="spacingAndGlyphs">15 Feb 12:00</text>
<text x="172.9" y="472.8" textLength="29.2" lengthAdjust="spacingAndGlyphs">15 Feb 20:00</text>
<text x="207.1" y="472.8" textLength="29.2" lengthAdjust="spacingAndGlyphs">16 Feb 05:00</text>
<text x="241.3" y="472.8" textLength="29.2" lengthAdjust="spacingAndGlyphs">16 Feb 13:00</text>
<text x="275.4" y="472.8" textLength="29.2" lengthAdjust="spacingAndGlyphs">16 Feb 21:00</text>
<text x="309.6" y="472.8" textLength="29.2" lengthAdjust="spacingAndGlyphs">17 Feb 06:00</text>
<text x="343.7" y="472.8" textLength="29.2" lengthAdjust="spacingAndGlyphs">17 Feb 14:00</text>
<text x="377.9" y="472.8" textLength="29.2" lengthAdjust="spacingAndGlyphs">17 Feb 22:00</text>
<text x="412.0" y="472.8" textLength="29.2" lengthAdjust="spacingAndGlyphs">20 Feb 07:00</text>
<text x="446.2" y="472.8" textLength="29.2" lengthAdjust="spacingAndGlyphs">20 Feb 15:00</text>
<text x="480.3" y="472.8" textLength="29.2" lengthAdjust="spacingAndGlyphs">21 Feb 02:00</text>
<text x="514.5" y="472.8" textLength="29.2" lengthAdjust="spacingAndGlyphs">21 Feb 10:00</text>
<text x="548.6" y="472.8" textLength="29.2" lengthAdjust="spacingAndGlyphs">21 Feb 18:00</text>
<text x="582.8" y="472.8" textLength="29.2" lengthAdjust="spacingAndGlyphs">22 Feb 03:00</text>
<text x="617.0" y="472.8" textLength="29.2" lengthAdjust="spacingAndGlyphs">22 Feb 11:00</text>
<text x="651.1" y="472.8" textLength="29.2" lengthAdjust="spacingAndGlyphs">22 Feb 19:00</text>
<text x="685.3" y="472.8" textLength="29.2" lengthAdjust="spacingAndGlyphs">23 Feb 04:00</text>
<text x="719.4" y="472.8" textLength="29.2" lengthAdjust="spacingAndGlyphs">23 Feb 12:00</text>
<text x="753.6" y="472.8" textLength="29.2" lengthAdjust="spacingAndGlyphs">23 Feb 20:00</text>
<text x="787.7" y="472.8" textLength="29.2" lengthAdjust="spacingAndGlyphs">24 Feb 05:00</text>
<text x="821.9" y="472.8" textLength="29.2" lengthAdjust="spacingAndGlyphs">24 Feb 13:00</text>
<text x="856.0" y="472.8" textLength="29.2" lengthAdjust="spacingAndGlyphs">24 Feb 21:00</text>
<text x="890.2" y="472.8" textLength="29.2" lengthAdjust="spacingAndGlyphs">27 Feb 06:00</text>
<text x="924.4" y="472.8" textLength="29.2" lengthAdjust="spacingAndGlyphs">27 Feb 14:00</text>
<text x="958.5" y="472.8" textLength="29.2" lengthAdjust="spacingAndGlyphs">27 Feb 22:00</text>
<text x="10" y="6.3" textLength="28.3" lengthAdjust="spacingAndGlyphs">XAUUSD,H1</text>
<text x="42.6" y="6.3">1814.84 1815.43 1813.73 1814.37</text>
<text x="4.6" y="330.6">RSI(14) 46.6064</text>
<text x="4.2" y="399.1" textLength="62.6" lengthAdjust="spacingAndGlyphs">MACD(12,26,9) 0.516 0.756</text>
</g>
<path d="M4 3.5h3.4l-1.7 2.3z" fill="#d6d8ec"/>
<rect x="999.4" y="249.9" width="21.5" height="5.8" fill="#efeffb"/>
<text x="1001.8" y="254.6" font-size="4.85" fill="#23254d" stroke="#23254d" stroke-width="0.12" filter="url(#bl)">1814.37</text>
</svg></body></html>
